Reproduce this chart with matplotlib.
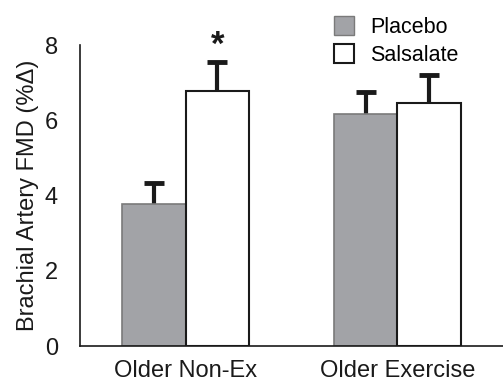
import numpy as np
import matplotlib.pyplot as plt
from matplotlib.patches import Patch

plt.rcParams['font.family'] = ['Liberation Sans', 'DejaVu Sans']

groups = ['Older Non-Ex', 'Older Exercise']
placebo = [3.79, 6.17]
placebo_err = [0.55, 0.58]
salsalate = [6.78, 6.46]
salsalate_err = [0.77, 0.74]

fig = plt.figure(figsize=(5.03, 3.83), dpi=100)
ax = fig.add_axes([0.159, 0.096, 0.841, 0.786])

x = np.arange(len(groups))
w = 0.3
ink = '#1a1a1a'

ax.bar(x - w/2, placebo, w, color='#a2a3a7', edgecolor='#7a7a7a', linewidth=1.2, zorder=2)
ax.bar(x + w/2, salsalate, w, color='white', edgecolor=ink, linewidth=1.5, zorder=2)

# upper-only error bars: stem + cap
for xs, vals, errs in [(x - w/2, placebo, placebo_err), (x + w/2, salsalate, salsalate_err)]:
    tops = np.array(vals) + np.array(errs)
    ax.vlines(xs, vals, tops, color=ink, linewidth=3, zorder=1)
    ax.plot(xs, tops, linestyle='none', marker='_', markersize=14, mew=3.5, color=ink, zorder=3)

ax.text(x[0] + w/2, salsalate[0] + salsalate_err[0] + 0.02, '*', ha='center', va='bottom',
        fontsize=25, fontweight='bold', color=ink)

ax.set_xlim(-0.5, 1.5)
ax.set_ylim(0, 8)
ax.set_yticks([0, 2, 4, 6, 8])
ax.set_xticks(x)
ax.set_xticklabels(groups)
ax.tick_params(length=0, labelsize=17, colors=ink)
ax.tick_params(axis='x', pad=10)
ax.tick_params(axis='y', pad=16)
ax.set_ylabel('Brachial Artery FMD (%Δ)', fontsize=17, color=ink, labelpad=4)

for s in ['top', 'right']:
    ax.spines[s].set_visible(False)
for s in ['left', 'bottom']:
    ax.spines[s].set_color(ink)
    ax.spines[s].set_linewidth(1.2)

handles = [Patch(facecolor='#a2a3a7', edgecolor='#7a7a7a', label='Placebo'),
           Patch(facecolor='white', edgecolor=ink, linewidth=1.5, label='Salsalate')]
fig.legend(handles=handles, loc='upper left', bbox_to_anchor=(0.625, 1.01), frameon=False,
           fontsize=15.5, handlelength=0.95, handleheight=1.0, handletextpad=0.75, labelspacing=0.3)

fig.savefig('out.png', dpi=100)
